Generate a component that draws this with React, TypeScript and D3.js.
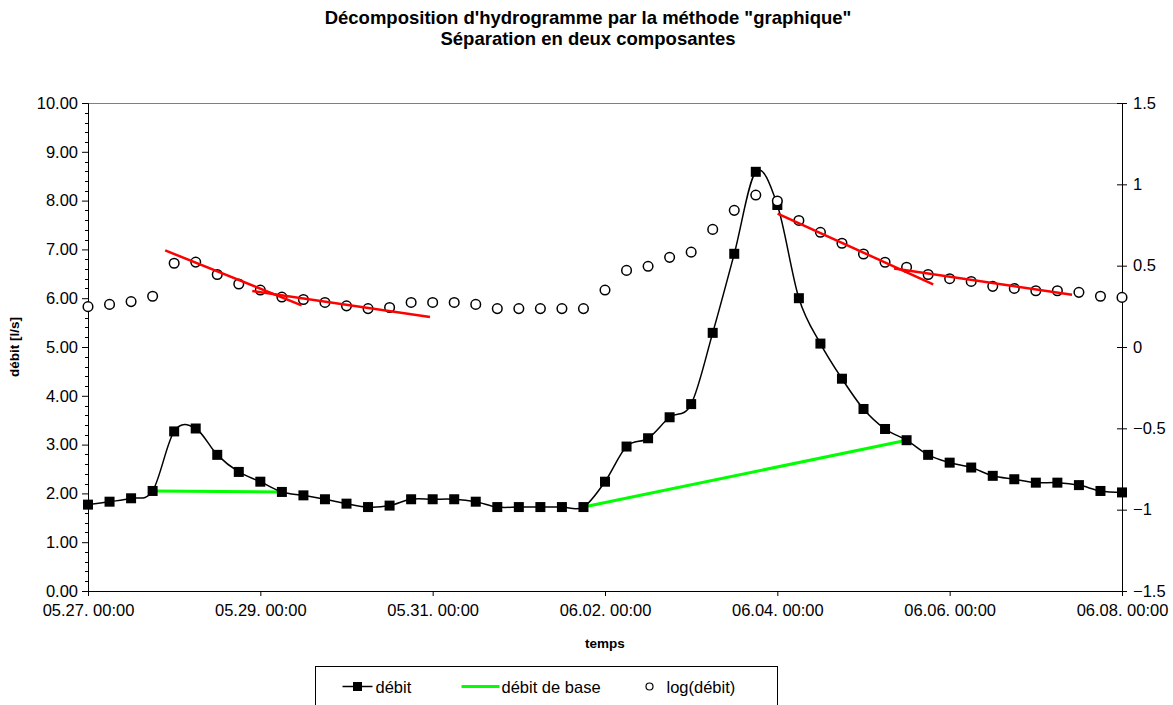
import React, { useRef, useEffect } from 'react';
import * as d3 from 'd3';

// débit [l/s] every 6 hours from 05.27 00:00 to 06.08 00:00
const debit = [
  1.77, 1.83, 1.90, 2.05, 3.27, 3.33, 2.79, 2.44, 2.24, 2.03,
  1.96, 1.88, 1.79, 1.72, 1.75, 1.88, 1.88, 1.88, 1.83, 1.72,
  1.72, 1.72, 1.72, 1.72, 2.24, 2.96, 3.13, 3.56, 3.83, 5.29,
  6.91, 8.59, 7.91, 6.00, 5.07, 4.35, 3.73, 3.32, 3.09, 2.79,
  2.63, 2.53, 2.36, 2.29, 2.22, 2.22, 2.17, 2.05, 2.02,
];

// log(débit), right axis
const logDebit = [
  0.248, 0.262, 0.279, 0.312, 0.515, 0.522, 0.446, 0.387, 0.350, 0.307,
  0.292, 0.274, 0.253, 0.236, 0.243, 0.274, 0.274, 0.274, 0.262, 0.236,
  0.236, 0.236, 0.236, 0.236, 0.350, 0.471, 0.496, 0.551, 0.583, 0.723,
  0.840, 0.934, 0.898, 0.778, 0.705, 0.638, 0.572, 0.521, 0.490, 0.446,
  0.420, 0.403, 0.373, 0.360, 0.346, 0.346, 0.336, 0.312, 0.305,
];

// débit de base (left axis)
const baseFlow: [string, number][][] = [
  [['05.27 18:00', 2.05], ['05.29 06:00', 2.03]],
  [['06.01 18:00', 1.72], ['06.05 12:00', 3.09]],
];

// recession lines on log(débit) (right axis)
const recessions: [string, number][][] = [
  [['05.27 21:30', 0.594], ['05.29 11:30', 0.256]],
  [['05.28 21:45', 0.344], ['05.30 23:15', 0.184]],
  [['06.04 00:05', 0.820], ['06.05 19:25', 0.385]],
  [['06.05 08:30', 0.482], ['06.07 10:05', 0.321]],
];

const xTickLabels = ['05.27 00:00', '05.29 00:00', '05.31 00:00', '06.02 00:00', '06.04 00:00', '06.06 00:00', '06.08 00:00'];
const leftTicks = [0, 1, 2, 3, 4, 5, 6, 7, 8, 9, 10];
const rightTicks = [-1.5, -1, -0.5, 0, 0.5, 1, 1.5];

const FONT = '"Liberation Sans", Arial, sans-serif';
const parseT = d3.timeParse('%Y.%m.%d %H:%M');
const pt = (s: string) => parseT('2005.' + s) as Date;
const start = pt(xTickLabels[0]);
const end = pt(xTickLabels[xTickLabels.length - 1]);
const times = debit.map((_, i) => d3.timeHour.offset(start, i * 6));

const App = () => {
  const svgRef = useRef<SVGSVGElement>(null);

  useEffect(() => {
    const svg = d3.select(svgRef.current);
    svg.selectAll('*').remove();

    const margin = { top: 103, right: 51, bottom: 114, left: 88 };
    const W = 1173, H = 705;
    const width = W - margin.left - margin.right;
    const height = H - margin.top - margin.bottom;

    const x = d3.scaleTime().domain([start, end]).range([0, width]);
    const y = d3.scaleLinear().domain([0, 10]).range([height, 0]);
    const y2 = d3.scaleLinear().domain([-1.5, 1.5]).range([height, 0]);

    svg.append('g').attr('font-family', FONT).attr('font-weight', 'bold').attr('font-size', 18.5)
      .attr('text-anchor', 'middle')
      .selectAll('text')
      .data(['Décomposition d\'hydrogramme par la méthode "graphique"', 'Séparation en deux composantes'])
      .join('text')
      .attr('x', 588)
      .attr('y', (d, i) => 24 + i * 21)
      .text(d => d);

    const g = svg.append('g').attr('transform', `translate(${margin.left},${margin.top})`);

    // plot area border (top)
    g.append('line').attr('x1', 0).attr('x2', width).attr('y1', 0.5).attr('y2', 0.5)
      .attr('stroke', '#808080');

    // left axis
    const yAxis = g.append('g')
      .call(d3.axisLeft(y).tickValues(leftTicks).tickFormat(d3.format('.2f')).tickSize(6).tickPadding(4));
    yAxis.selectAll('text').attr('font-family', FONT).attr('font-size', 16.5).attr('fill', '#000');
    g.append('g').selectAll('line')
      .data(d3.range(0, 10.001, 0.2).filter(v => Math.abs(v - Math.round(v)) > 0.01))
      .join('line')
      .attr('x1', -3).attr('x2', 0)
      .attr('y1', d => Math.round(y(d)) + 0.5).attr('y2', d => Math.round(y(d)) + 0.5)
      .attr('stroke', '#000');

    // right axis
    const y2Axis = g.append('g').attr('transform', `translate(${width},0)`)
      .call(d3.axisRight(y2).tickValues(rightTicks).tickFormat(d3.format('')).tickSize(5).tickPadding(6));
    y2Axis.selectAll('text').attr('font-family', FONT).attr('font-size', 16.5).attr('fill', '#000');
    y2Axis.selectAll('.tick line').attr('x1', -5);

    // x axis
    const xAxis = g.append('g').attr('transform', `translate(0,${height})`)
      .call(d3.axisBottom(x).tickValues(xTickLabels.map(pt)).tickFormat(d3.timeFormat('%m.%d. %H:%M') as any)
        .tickSize(5).tickPadding(8));
    xAxis.selectAll('text').attr('font-family', FONT).attr('font-size', 16.5).attr('fill', '#000');
    xAxis.select('.domain').attr('d', `M0.5,0.5H${width}`);

    // axis titles
    svg.append('text')
      .attr('transform', `translate(19,${margin.top + height / 2}) rotate(-90)`)
      .attr('text-anchor', 'middle')
      .attr('font-family', FONT).attr('font-weight', 'bold').attr('font-size', 13.5)
      .text('débit [l/s]');
    svg.append('text')
      .attr('x', margin.left + width / 2).attr('y', 648)
      .attr('text-anchor', 'middle')
      .attr('font-family', FONT).attr('font-weight', 'bold').attr('font-size', 13.5)
      .text('temps');

    // green base flow
    const lineL = d3.line<[string, number]>().x(d => x(pt(d[0]))).y(d => y(d[1]));
    g.append('g').selectAll('path').data(baseFlow).join('path')
      .attr('d', lineL).attr('fill', 'none').attr('stroke', '#00ff00').attr('stroke-width', 3);

    // débit
    const debitLine = d3.line<number>()
      .x((d, i) => x(times[i]))
      .y(d => y(d))
      .curve(d3.curveCardinal.tension(0));
    g.append('path').datum(debit)
      .attr('d', debitLine).attr('fill', 'none').attr('stroke', '#000').attr('stroke-width', 1.5);
    g.append('g').selectAll('rect').data(debit).join('rect')
      .attr('x', (d, i) => x(times[i]) - 5).attr('y', d => y(d) - 5)
      .attr('width', 10).attr('height', 10).attr('fill', '#000');

    // log(débit)
    g.append('g').selectAll('circle').data(logDebit).join('circle')
      .attr('cx', (d, i) => x(times[i])).attr('cy', d => y2(d)).attr('r', 4.8)
      .attr('fill', '#fff').attr('stroke', '#000').attr('stroke-width', 1.5);

    // red recession lines
    const lineR = d3.line<[string, number]>().x(d => x(pt(d[0]))).y(d => y2(d[1]));
    g.append('g').selectAll('path').data(recessions).join('path')
      .attr('d', lineR).attr('fill', 'none').attr('stroke', '#ff0000').attr('stroke-width', 2.5);

    // legend
    const leg = svg.append('g').attr('transform', 'translate(315.5,666.5)')
      .attr('font-family', FONT).attr('font-size', 16.5);
    leg.append('rect').attr('width', 462).attr('height', 50).attr('fill', '#fff').attr('stroke', '#000');
    const ly = 20;
    leg.append('line').attr('x1', 27).attr('x2', 57).attr('y1', ly).attr('y2', ly).attr('stroke', '#000').attr('stroke-width', 1.5);
    leg.append('rect').attr('x', 37.5).attr('y', ly - 4.5).attr('width', 9).attr('height', 9).attr('fill', '#000');
    leg.append('text').attr('x', 60).attr('y', ly + 6).text('débit');
    leg.append('line').attr('x1', 146).attr('x2', 184).attr('y1', ly).attr('y2', ly).attr('stroke', '#00ff00').attr('stroke-width', 3);
    leg.append('text').attr('x', 186).attr('y', ly + 6).text('débit de base');
    leg.append('circle').attr('cx', 334).attr('cy', ly).attr('r', 3.5).attr('fill', '#fff').attr('stroke', '#000').attr('stroke-width', 1.2);
    leg.append('text').attr('x', 351).attr('y', ly + 6).text('log(débit)');
  }, []);

  return (
    <svg ref={svgRef} width={1173} height={705}
      style={{ position: 'absolute', left: 0, top: 0, display: 'block', background: '#fff' }} />
  );
};

export default App;
